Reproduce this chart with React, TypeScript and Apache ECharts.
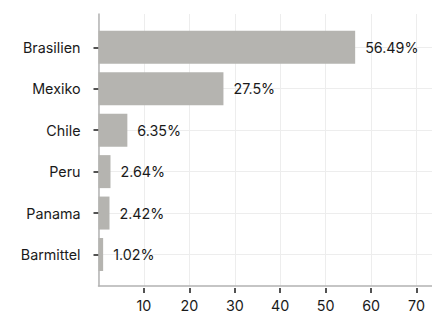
import React, { useEffect, useRef } from "react";
import * as echarts from "echarts";

const categories = ["Brasilien", "Mexiko", "Chile", "Peru", "Panama", "Barmittel"];
const values = [56.49, 27.5, 6.35, 2.64, 2.42, 1.02];
const labels = ["56.49%", "27.5%", "6.35%", "2.64%", "2.42%", "1.02%"];
const xTicks = [10, 20, 30, 40, 50, 60, 70];

const FONT = "Inter";
const FS = 14.3;
const X_MAX = 73.4;

export default function App() {
  const ref = useRef<HTMLDivElement>(null);
  useEffect(() => {
    if (!ref.current) return;
    const chart = echarts.init(ref.current, null, { renderer: "svg" });
    const left = 98.5;
    chart.setOption({
      animation: false,
      backgroundColor: "#ffffff",
      grid: [
        { left, right: 0, top: 14, bottom: 28 },
        { left, right: 0, top: 47.3, bottom: 314 - 254.5 },
      ],
      xAxis: [
        {
          gridIndex: 0,
          type: "value",
          min: 0,
          max: X_MAX,
          interval: 10,
          axisLine: { show: true, lineStyle: { color: "#b3b3b3", width: 1.5 } },
          axisTick: { show: false },
          axisLabel: { show: false },
          splitLine: { show: true, lineStyle: { color: "#ededed", width: 1 } },
        },
        {
          gridIndex: 0,
          type: "value",
          min: 0,
          max: X_MAX,
          position: "bottom",
          offset: 2,
          axisLine: { show: false },
          axisTick: {
            show: true,
            length: 5,
            customValues: xTicks,
            lineStyle: { color: "#1a1a1a", width: 1.5 },
          },
          axisLabel: {
            show: true,
            customValues: xTicks,
            margin: 10,
            color: "#1a1a1a",
            fontFamily: FONT,
            fontSize: FS,
          },
          splitLine: { show: false },
        },
        {
          gridIndex: 1,
          type: "value",
          min: 0,
          max: X_MAX,
          show: false,
        },
      ],
      yAxis: [
        {
          gridIndex: 0,
          type: "value",
          min: 0,
          max: 1,
          axisLine: { show: true, onZero: false, lineStyle: { color: "#b3b3b3", width: 1.5 } },
          axisTick: { show: false },
          axisLabel: { show: false },
          splitLine: { show: false },
        },
        {
          gridIndex: 1,
          type: "category",
          data: categories,
          inverse: true,
          boundaryGap: false,
          offset: 3,
          axisLine: { show: false },
          axisTick: { show: true, length: 5, lineStyle: { color: "#1a1a1a", width: 1.5 } },
          axisLabel: {
            margin: 15,
            color: "#1a1a1a",
            fontFamily: FONT,
            fontSize: FS,
          },
          splitLine: { show: true, lineStyle: { color: "#ededed", width: 1 } },
        },
      ],
      series: [
        {
          type: "bar",
          xAxisIndex: 2,
          yAxisIndex: 1,
          data: values,
          barWidth: 33,
          clip: false,
          itemStyle: { color: "#b5b4b0" },
          label: {
            show: true,
            position: "right",
            distance: 10,
            color: "#1a1a1a",
            fontFamily: FONT,
            fontSize: FS,
            formatter: (p: any) => labels[p.dataIndex],
          },
        },
      ],
    });
    return () => chart.dispose();
  }, []);
  return (
    <div
      ref={ref}
      style={{ position: "fixed", left: 0, top: 0, width: 432, height: 314 }}
    />
  );
}
